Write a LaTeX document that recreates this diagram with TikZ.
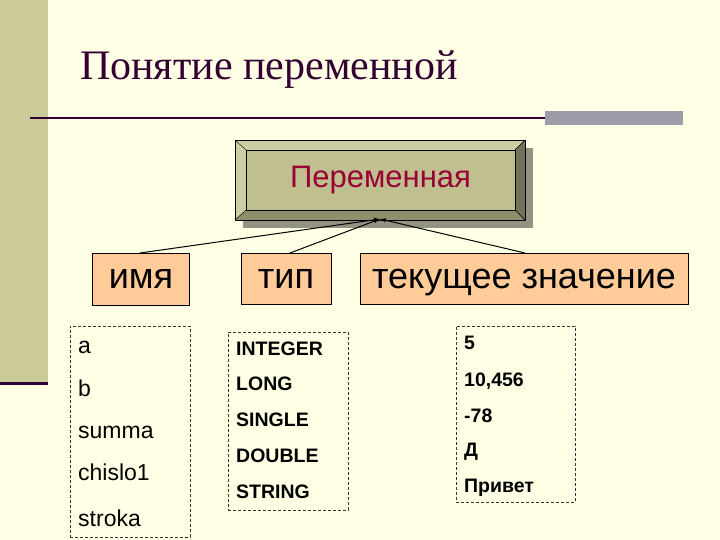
\documentclass[tikz,border=0pt]{standalone}
\usepackage{fontspec}
\setmainfont{Liberation Sans}
\newfontfamily\serifrm{Liberation Serif}
\definecolor{bg}{HTML}{FFFFE5}
\definecolor{strip}{HTML}{CCCC99}
\definecolor{ttl}{HTML}{330033}
\definecolor{olive}{HTML}{BFBF8F}
\definecolor{peach}{HTML}{FFCC99}
\definecolor{wine}{HTML}{990033}
\begin{document}
\begin{tikzpicture}[x=1pt,y=-1pt,
  head/.style={draw=black,fill=peach,inner sep=0pt,text height=22pt,text depth=4pt,font=\fontsize{36}{36}\selectfont},
  list/.style={draw=black!80,dashed,dash pattern=on 3pt off 2pt,fill=bg},
  itm/.style={anchor=west,inner sep=0pt},
  conn/.style={draw=black,line width=1pt}]
\fill[bg] (0,0) rectangle (720,540);
\useasboundingbox (0,0) rectangle (720,540);
\fill[strip] (0,0) rectangle (48,383);
\draw[ttl,line width=3pt] (0,383) -- (48,383);
\node[ttl,anchor=west,font=\serifrm\fontsize{42}{42}\selectfont,inner sep=0pt] (title) at (80,70) {Понятие переменной};
\draw[ttl,line width=2pt] (30,118) coordinate (l1) -- (545,118) coordinate (l2);
\fill[black!35!blue!10!gray!70] (545,111) rectangle (683,125);
% Variable box
\fill[gray!70!olive] (243,148) rectangle (533,228);
\fill[olive!80!white] (235,140) rectangle (525,220);
\fill[olive!60!black] (515,150) -- (525,140) -- (525,220) -- (515,210) -- cycle;
\fill[olive!75!black] (246,210) -- (515,210) -- (525,220) -- (235,220) -- cycle;
\draw[black,line width=0.6pt] (235,140) rectangle (525,220);
\draw[black,line width=0.4pt] (235,140)--(246,150) (525,140)--(515,150) (525,220)--(515,210) (235,220)--(246,210);
\node[draw=black,fill=olive,minimum width=269pt,minimum height=60pt,inner sep=0pt,text=wine,font=\fontsize{31}{31}\selectfont] (var) at (380.5,180) {Переменная};
\coordinate (tip) at (380,219);
% heads
\node[head,minimum width=97pt,minimum height=52pt] (name) at (141,279) {имя};
\node[head,minimum width=90pt,minimum height=51pt] (type) at (286,279) {тип};
\node[head,minimum width=328pt,minimum height=51pt] (val) at (524,279) {текущее значение};
\draw[conn,-latex] (140,253) -- (tip);
\draw[conn,-latex] (290,253) -- (tip);
\draw[conn,-latex] (525,253) -- (tip);
% lists
\node[list,minimum width=120pt,minimum height=211pt] (l) at (130,431.5) {};
\node[list,minimum width=120pt,minimum height=178pt] (m) at (288,421) {};
\node[list,minimum width=119pt,minimum height=176pt] (r) at (515.5,414) {};
\begin{scope}[font=\fontsize{23}{23}\selectfont]
\node[itm] (a) at (78,347) {a};
\node[itm] (b) at (78,388) {b};
\node[itm] (s) at (78,432) {summa};
\node[itm] (c) at (78,472) {chislo1};
\node[itm] (st) at (78,518) {stroka};
\end{scope}
\begin{scope}[font=\bfseries\fontsize{19.5}{19.5}\selectfont]
\node[itm] (t1) at (236,349) {INTEGER};
\node[itm] (t2) at (236,384) {LONG};
\node[itm] (t3) at (236,420) {SINGLE};
\node[itm] (t4) at (236,456) {DOUBLE};
\node[itm] (t5) at (236,492) {STRING};
\node[itm] (v1) at (464,343) {5};
\node[itm] (v2) at (464,381) {10,456};
\node[itm] (v3) at (464,416) {-78};
\node[itm] (v4) at (464,452) {Д};
\node[itm] (v5) at (464,488) {Привет};
\end{scope}
\end{tikzpicture}
\end{document}
